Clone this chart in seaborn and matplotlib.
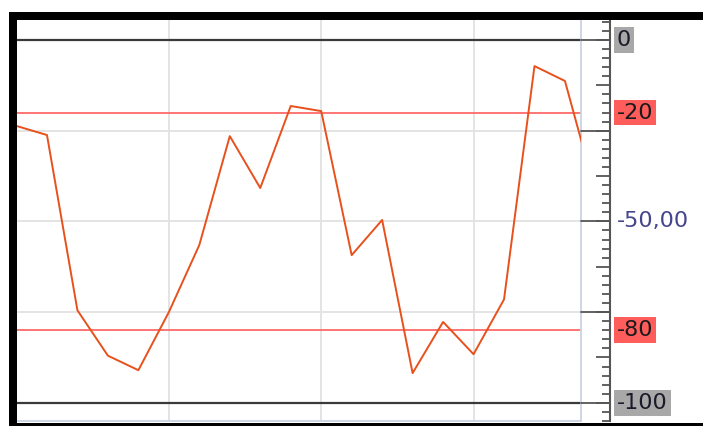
import numpy as np
import pandas as pd
import matplotlib
matplotlib.use("Agg")
import matplotlib.pyplot as plt
import matplotlib.transforms as mtransforms
from matplotlib.lines import Line2D
from matplotlib.patches import Rectangle
from matplotlib.ticker import MultipleLocator
import seaborn as sns

# ---- data ----
bar_index = list(range(20))
williams_r = [-23.7, -26.2, -74.5, -87.0, -91.0, -75.0, -56.5, -26.5, -40.8, -18.2,
              -19.6, -59.3, -49.6, -91.8, -77.7, -86.6, -71.5, -7.2, -11.3, -42.0]
level_lines = [0, -20, -80, -100]
label_values = [0, -20, -50, -80, -100]
label_texts = ["0", "-20", "-50,00", "-80", "-100"]

W, H = 703, 426
sns.set_style("white")
plt.rcParams['font.family'] = ['DejaVu Sans']

fig = plt.figure(figsize=(W / 100, H / 100), dpi=100)
fig.patch.set_facecolor("white")

L, R, T, B = 16.5, 581, 20, 421
AXX = 610  # pixel x of the right axis line
ax = fig.add_axes([L / W, 1 - B / H, (R - L) / W, (B - T) / H])
ax.set_facecolor("white")

df = pd.DataFrame({"x": bar_index, "y": williams_r})

# gridlines
for gx in [5, 10, 15]:
    ax.axvline(gx, color="#e2e2e2", lw=1.3, zorder=0)
for gy in [-25, -50, -75]:
    ax.axhline(gy, color="#e2e2e2", lw=1.3, zorder=0)

# level lines
ax.axhline(0, color="#3a3a3a", lw=1.6, zorder=1)
ax.axhline(-100, color="#3a3a3a", lw=1.6, zorder=1)
ax.axhline(-20, color="#ff6a6a", lw=1.3, zorder=1)
ax.axhline(-80, color="#ff6a6a", lw=1.3, zorder=1)

sns.lineplot(data=df, x="x", y="y", ax=ax, color="#e8501c", lw=1.4, zorder=3)

ax.set_xlim(0, (R - L) / 30.47)
ax.set_ylim(-105, 5.5)
ax.set_xlabel("")
ax.set_ylabel("")
ax.set_xticks([])

for s in ["top", "left", "bottom"]:
    ax.spines[s].set_visible(False)

# right axis (outward offset is in points)
ax.yaxis.tick_right()
ax.spines["right"].set_position(("outward", (AXX - R) * 0.72))
ax.spines["right"].set_color("#555555")
ax.spines["right"].set_linewidth(1.5)
ax.yaxis.set_major_locator(MultipleLocator(12.5))
ax.yaxis.set_minor_locator(MultipleLocator(2.5))
ax.tick_params(axis="y", which="major", direction="in", length=10, width=1.3,
               color="#555555", labelright=False, labelleft=False)
ax.tick_params(axis="y", which="minor", direction="in", length=5.8, width=1.3,
               color="#555555")

# plot border lines (light blue-grey)
ax.plot([1, 1], [0, 1], transform=ax.transAxes, color="#c9d3e0", lw=1.3, clip_on=False)
ax.plot([0, 1], [0, 0], transform=ax.transAxes, color="#c9d3e0", lw=1.3, clip_on=False)

# long ticks from plot edge to axis
bt = mtransforms.blended_transform_factory(fig.transFigure, ax.transData)
for v in [0, -25, -50, -75, -100]:
    fig.add_artist(Line2D([R / W, AXX / W], [v, v], transform=bt, color="#555555",
                          lw=1.3))

# labels
styles = {
    "0": dict(bg="#a8a8a8", fc="#1a1a2a"),
    "-20": dict(bg="#ff5c5c", fc="#1a1a1a"),
    "-50,00": dict(bg=None, fc="#45458e"),
    "-80": dict(bg="#ff5c5c", fc="#1a1a1a"),
    "-100": dict(bg="#a8a8a8", fc="#1a1a2a"),
}
for v, t in zip(label_values, label_texts):
    st = styles[t]
    kw = {}
    if st["bg"]:
        kw["bbox"] = dict(boxstyle="square,pad=0.13", fc=st["bg"], ec="none")
    fig.text(617 / W, v, t, transform=bt, ha="left", va="center", fontsize=16,
             color=st["fc"], **kw)

# black frame
fig.add_artist(Rectangle((9 / W, 1 - 19.5 / H), 1 - 9 / W, 7.5 / H,
                         transform=fig.transFigure, fc="black", ec="none"))
fig.add_artist(Rectangle((9 / W, 0), 7.5 / W, 1 - 12 / H,
                         transform=fig.transFigure, fc="black", ec="none"))
fig.add_artist(Rectangle((9 / W, 0), 1 - 9 / W, 3 / H,
                         transform=fig.transFigure, fc="black", ec="none"))

fig.savefig("out.png", dpi=100)
